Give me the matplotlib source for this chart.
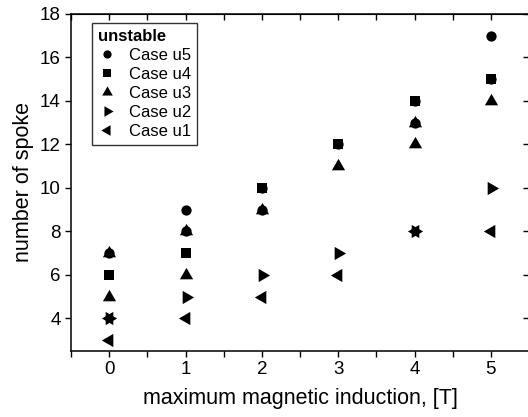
import matplotlib
matplotlib.use("Agg")
import numpy as np
import matplotlib.pyplot as plt
from matplotlib.ticker import MultipleLocator

plt.rcParams['font.family'] = ['Liberation Sans', 'DejaVu Sans']

# Data (x = maximum magnetic induction [T], y = number of spokes)
u5_x = [0, 1, 1, 2, 2, 3, 4, 4, 5, 5]
u5_y = [7, 9, 8, 10, 9, 12, 14, 13, 17, 15]
u4_x = [0, 1, 2, 3, 4, 5]
u4_y = [6, 7, 10, 12, 14, 15]
u3_x = [0, 0, 1, 1, 2, 3, 4, 4, 5]
u3_y = [7, 5, 8, 6, 9, 11, 13, 12, 14]
u2_x = [0, 1, 2, 3, 4, 5]
u2_y = [4, 5, 6, 7, 8, 10]
u1_x = [0, 0, 1, 2, 3, 4, 5]
u1_y = [4, 3, 4, 5, 6, 8, 8]

labels = ["Case u5", "Case u4", "Case u3", "Case u2", "Case u1"]
xticks = [0, 1, 2, 3, 4, 5]
yticks = [4, 6, 8, 10, 12, 14, 16, 18]


def tri(angle_deg):
    # equilateral triangle centred on its centroid, apex pointing at angle_deg
    a = np.deg2rad(angle_deg + np.array([0, 120, 240]))
    return list(zip(np.cos(a), np.sin(a)))


tri_up = tri(90)
tri_right = tri(0)
tri_left = tri(180)

fig = plt.figure(figsize=(5.28, 4.17), dpi=100)
ax = fig.add_axes([71 / 528, 1 - 351 / 417, 458 / 528, 337 / 417])

series = [(u5_x, u5_y, 'o', 7.4), (u4_x, u4_y, 's', 7.0), (u3_x, u3_y, tri_up, 11.0),
          (u2_x, u2_y, tri_right, 11.0), (u1_x, u1_y, tri_left, 11.0)]
for (xs, ys, m, ms), lab in zip(series, labels):
    ax.plot(xs, ys, linestyle='none', marker=m, markersize=ms, color='black',
            markeredgewidth=0, label=lab)

ax.set_xlim(-0.5, 5.5)
ax.set_ylim(2.5, 18)
ax.set_xticks(xticks)
ax.set_yticks(yticks)
ax.xaxis.set_minor_locator(MultipleLocator(0.5))

for s in ax.spines.values():
    s.set_linewidth(1.1)

ax.tick_params(axis='both', which='both', labelsize=13.5, width=1.0, color='black', pad=3)
ax.tick_params(axis='x', which='both', direction='out', top=False, length=4.3)
ax.tick_params(axis='y', which='both', direction='out', right=False, length=4.3)

# Top and right ticks pointing inward
axt = ax.secondary_xaxis('top')
axt.set_xticks(xticks)
axt.xaxis.set_minor_locator(MultipleLocator(0.5))
axt.tick_params(axis='x', which='both', direction='in', length=4.3, width=1.0, labeltop=False)
axr = ax.secondary_yaxis('right')
axr.set_yticks(yticks)
axr.tick_params(axis='y', which='both', direction='in', length=4.3, width=1.0, labelright=False)

ax.set_xlabel("maximum magnetic induction, [T]", fontsize=15.5, labelpad=7)
ax.set_ylabel("number of spoke", fontsize=15.5, labelpad=4)

leg = ax.legend(loc='upper left', bbox_to_anchor=(0.046, 0.973), title="unstable",
                fontsize=12, title_fontproperties={'weight': 'bold', 'size': 12},
                frameon=True, fancybox=False, borderpad=0.35, labelspacing=0.24,
                handletextpad=0.75, handlelength=1.1, borderaxespad=0, markerscale=0.8)
leg._legend_box.align = "left"
leg.get_frame().set_edgecolor('black')
leg.get_frame().set_linewidth(1.0)

fig.savefig("out.png", dpi=100)
